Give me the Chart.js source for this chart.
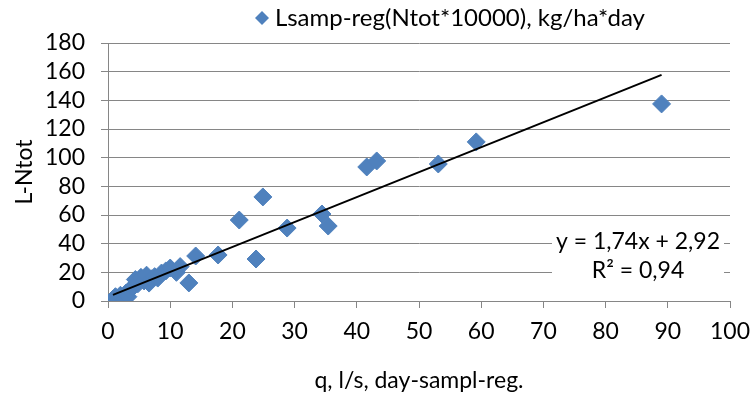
<!DOCTYPE html>
<html>
<head>
<meta charset="utf-8">
<script src="https://cdn.jsdelivr.net/npm/chart.js@4.4.1/dist/chart.umd.min.js"></script>
<style>
  html, body { margin: 0; padding: 0; background: #fff; }
  #wrap { width: 754px; height: 398px; }
</style>
</head>
<body>
<div id="wrap"><canvas id="chart" width="754" height="398"></canvas></div>
<script>
// flow (l/s) and N load per sample
const q = [0.8, 1.0, 1.2, 1.6, 2.0, 2.4, 2.6, 2.9, 3.2, 3.5, 4.0, 4.4, 4.8, 5.3, 5.8, 6.2, 6.6, 7.0, 7.5, 8.0, 8.6, 9.3, 10.0, 11.0, 11.6, 13.0, 14.1, 17.7, 21.1, 23.8, 24.9, 28.8, 34.4, 35.4, 41.6, 43.2, 53.1, 59.2, 89.0]
const lNtot = [1.2, 0.4, 3.0, 0.8, 4.0, 2.5, 0.9, 5.5, 3.0, 7.5, 10.0, 15.0, 12.0, 16.5, 14.0, 18.0, 12.5, 15.5, 17.0, 16.0, 19.5, 21.0, 23.0, 20.0, 24.0, 12.6, 31.4, 32.1, 56.5, 29.3, 72.6, 50.9, 60.7, 52.3, 93.5, 97.7, 95.6, 111.0, 137.5]

// linear trend as printed on the chart
const slope = 1.74
const intercept = 2.92
const r2 = '0,94'

const xTicks = [0, 10, 20, 30, 40, 50, 60, 70, 80, 90, 100]
const yTicks = [0, 20, 40, 60, 80, 100, 120, 140, 160, 180]

const seriesName = 'Lsamp-reg(Ntot*10000), kg/ha*day'
const blue = '#4F81BD'
const gridGrey = '#868686'
const fontFam = 'Lato, Calibri, sans-serif'
const fontSize = 23

const points = q.map((v, i) => ({ x: v, y: lNtot[i] }))
const qMin = Math.min(...q)
const qMax = Math.max(...q)
const trend = [
  { x: qMin, y: slope * qMin + intercept },
  { x: qMax, y: slope * qMax + intercept }
]

function fmt(n) {
  return n.toFixed(2).replace('.', ',')
}

// legend on top and the equation box, drawn by hand
const extras = {
  id: 'extras',
  afterDatasetsDraw(chart) {
    const ctx = chart.ctx
    ctx.save()
    ctx.textBaseline = 'middle'

    // legend
    const lx = 262, ly = 18, r = 7
    ctx.fillStyle = blue
    ctx.beginPath()
    ctx.moveTo(lx, ly - r)
    ctx.lineTo(lx + r, ly)
    ctx.lineTo(lx, ly + r)
    ctx.lineTo(lx - r, ly)
    ctx.closePath()
    ctx.fill()
    ctx.fillStyle = '#000'
    ctx.textAlign = 'left'
    ctx.font = '24px ' + fontFam
    ctx.fillText(seriesName, 275, ly)

    // trendline label
    ctx.font = fontSize + 'px ' + fontFam
    const line1 = 'y = ' + fmt(slope) + 'x + ' + fmt(intercept)
    const line2 = 'R\u00b2 = ' + r2
    const cx = 638
    const w = ctx.measureText(line1).width
    ctx.fillStyle = '#fff'
    ctx.fillRect(cx - w / 2 - 4, 228, w + 8, 58)
    ctx.fillStyle = '#000'
    ctx.textAlign = 'center'
    ctx.fillText(line1, cx, 242)
    ctx.fillText(line2, cx, 271)
    ctx.restore()
  }
}

const ctx = document.getElementById('chart')
const chart = new Chart(ctx, {
  type: 'scatter',
  data: {
    datasets: [
      {
        label: 'trend',
        type: 'line',
        data: trend,
        borderColor: '#000',
        borderWidth: 2,
        pointRadius: 0,
        fill: false,
        order: 0
      },
      {
        label: seriesName,
        data: points,
        pointStyle: 'rectRot',
        pointRadius: 9,
        pointHoverRadius: 9,
        backgroundColor: blue,
        borderColor: blue,
        borderWidth: 1,
        order: 1
      }
    ]
  },
  options: {
    responsive: false,
    animation: false,
    events: [],
    layout: { padding: { top: 43, right: 24, left: 0, bottom: 0 } },
    plugins: {
      legend: { display: false },
      tooltip: { enabled: false }
    },
    scales: {
      x: {
        type: 'linear',
        min: 0,
        max: 100,
        afterFit(scale) {
          scale.height = 97
          scale.paddingLeft = 0
          scale.paddingRight = 0
        },
        afterBuildTicks(scale) { scale.ticks = xTicks.map(v => ({ value: v })) },
        grid: { drawOnChartArea: false, drawTicks: true, tickLength: 7, color: gridGrey },
        border: { color: gridGrey, width: 1 },
        ticks: { color: '#000', font: { family: fontFam, size: fontSize }, padding: 10, maxRotation: 0, autoSkip: false },
        title: {
          display: true,
          text: 'q, l/s, day-sampl-reg.',
          color: '#000',
          font: { family: fontFam, size: fontSize, lineHeight: 1.2 },
          padding: { top: 0, bottom: 4 }
        }
      },
      y: {
        type: 'linear',
        min: 0,
        max: 180,
        afterFit(scale) {
          scale.width = 108
          scale.paddingTop = 0
          scale.paddingBottom = 0
        },
        afterBuildTicks(scale) { scale.ticks = yTicks.map(v => ({ value: v })) },
        grid: { color: gridGrey, tickLength: 7 },
        border: { color: gridGrey, width: 1 },
        ticks: { color: '#000', font: { family: fontFam, size: fontSize }, padding: 16, autoSkip: false },
        title: {
          display: true,
          text: 'L-Ntot',
          color: '#000',
          font: { family: fontFam, size: fontSize, lineHeight: 1.2 },
          padding: { top: 11, bottom: 0 }
        }
      }
    }
  },
  plugins: [extras]
})
</script>
</body>
</html>
